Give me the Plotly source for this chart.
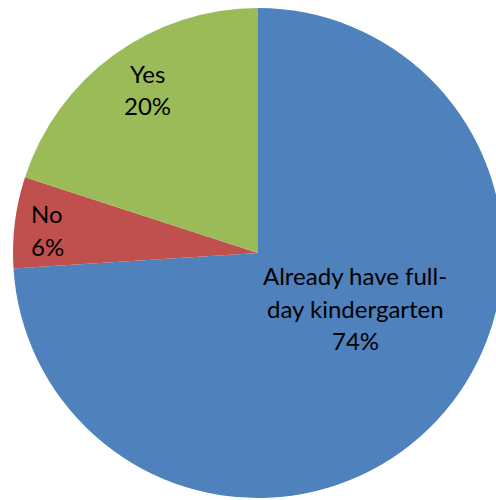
import plotly.graph_objects as go

labels = ["Already have full-day kindergarten", "No", "Yes"]
label_lines = [["Already have full-", "day kindergarten"], ["No"], ["Yes"]]
values = [74, 6, 20]
colors = ["#4F81BD", "#C0504D", "#9BBB59"]

W, H = 510, 500

fig = go.Figure(go.Pie(
    labels=labels,
    values=values,
    sort=False,
    direction="clockwise",
    rotation=0,
    marker=dict(colors=colors, line=dict(width=0)),
    textinfo="none",
    hoverinfo="label+percent",
    showlegend=False,
    domain=dict(x=[12 / W, 504 / W], y=[2 / H, 492 / H]),
))

# label anchor (x, first line y, x-anchor) in pixels, per slice
label_pos = [(355, 275.5, "center"), (29, 213.5, "left"), (147, 73, "center")]
line_gap = 32.5
for lines, v, (px, py, xa) in zip(label_lines, values, label_pos):
    for i, t in enumerate(lines + [f"{v}%"]):
        fig.add_annotation(
            x=px / W, y=1 - (py + i * line_gap) / H, xref="paper", yref="paper",
            text=t, showarrow=False, xanchor=xa, yanchor="middle",
            font=dict(family="Lato, Open Sans, sans-serif", size=24, color="black"),
        )

fig.update_layout(
    width=W, height=H,
    margin=dict(l=0, r=0, t=0, b=0),
    paper_bgcolor="white", plot_bgcolor="white",
)

fig.write_html("out.html", config={"displayModeBar": False},
               post_script="document.body.style.margin='0';document.body.style.overflow='hidden';")
